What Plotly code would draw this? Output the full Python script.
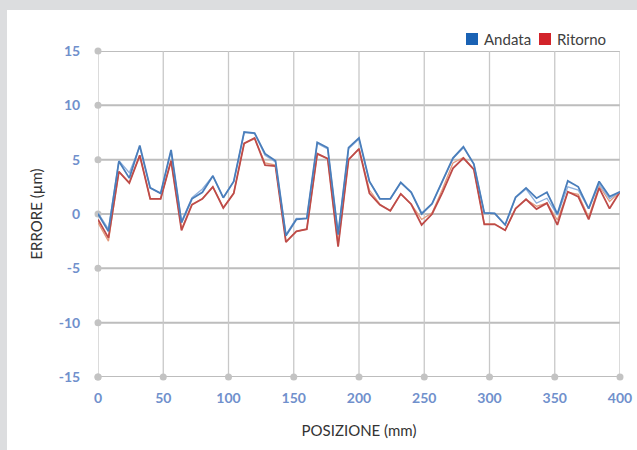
import plotly.graph_objects as go

posizione = [0, 8, 16, 24, 32, 40, 48, 56, 64, 72, 80, 88, 96, 104, 112, 120, 128, 136, 144, 152,
             160, 168, 176, 184, 192, 200, 208, 216, 224, 232, 240, 248, 256, 264, 272, 280, 288, 296,
             304, 312, 320, 328, 336, 344, 352, 360, 368, 376, 384, 392, 400]

andata = [0.0, -1.6, 4.85, 3.3, 6.3, 2.4, 1.9, 5.9, -0.8, 1.4, 2.0, 3.5, 1.5, 3.0, 7.55, 7.45, 5.55, 4.9,
          -2.0, -0.5, -0.4, 6.6, 6.1, -1.9, 6.1, 7.0, 3.0, 1.4, 1.4, 2.9, 2.0, 0.0, 0.95, 3.1, 5.15, 6.2,
          4.6, 0.1, 0.05, -1.0, 1.55, 2.4, 1.45, 2.0, 0.0, 3.05, 2.5, 0.5, 3.0, 1.6, 2.05]

andata_2 = [0.1, -1.4, 4.9, 3.8, 6.2, 2.4, 1.9, 5.8, -0.7, 1.5, 2.3, 3.5, 1.5, 3.0, 7.5, 7.4, 5.4, 4.8,
            -1.9, -0.4, -0.4, 6.5, 6.0, -1.8, 6.0, 6.9, 3.0, 1.4, 1.4, 2.9, 2.0, 0.1, 0.95, 3.1, 5.1, 6.1,
            4.6, 0.1, 0.05, -1.0, 1.5, 2.3, 1.0, 1.45, -0.1, 2.5, 2.2, 0.5, 2.75, 1.4, 2.05]

ritorno = [-0.5, -2.2, 3.9, 2.85, 5.4, 1.4, 1.4, 4.9, -1.5, 0.85, 1.4, 2.5, 0.55, 1.9, 6.5, 7.0, 4.5, 4.4,
           -2.6, -1.6, -1.4, 5.55, 5.1, -3.0, 5.0, 6.0, 1.9, 0.85, 0.3, 1.85, 0.9, -1.0, 0.0, 2.0, 4.2, 5.15,
           4.1, -0.95, -0.95, -1.5, 0.5, 1.35, 0.45, 1.0, -1.0, 2.05, 1.6, -0.5, 2.4, 0.5, 2.05]

ritorno_2 = [-0.8, -2.5, 3.9, 2.9, 5.4, 1.4, 1.4, 4.9, -1.4, 0.9, 1.4, 2.5, 0.6, 1.9, 6.5, 6.9, 4.7, 4.5,
             -2.5, -1.6, -1.4, 5.5, 5.1, -2.9, 5.0, 6.0, 2.2, 0.9, 0.3, 1.85, 0.9, -0.5, 0.1, 2.3, 4.7, 5.2,
             4.1, -0.9, -0.9, -1.5, 0.5, 1.35, 0.7, 1.0, -0.55, 2.0, 1.8, -0.3, 2.6, 1.15, 2.05]

x_ticks = [0, 50, 100, 150, 200, 250, 300, 350, 400]
y_ticks = [-15, -10, -5, 0, 5, 10, 15]
y_ticktext = ["-15", "-10", "-5", "0", "5", "10", "15"]
legend_names = ["Andata", "Ritorno"]

BLUE = "#4a7ebb"
BLUE_L = "#8fb0dc"
RED = "#be4b48"
RED_L = "#e39a7c"
LEGEND_COLORS = ["#1a62b4", "#d2232a"]
GRID = "#c8c8c8"
HGRID = "#bdbdbd"

L, R, T, B = 98, 17, 51, 73
W, H = 637, 450
pw, ph = W - L - R, H - T - B

def px_x(p):
    return (p - L) / pw

def px_y(p):
    return (H - B - p) / ph

fig = go.Figure()

# horizontal grid lines (from the tick array)
for yv in y_ticks:
    fig.add_shape(type="line", xref="x", yref="y", x0=x_ticks[0], x1=x_ticks[-1], y0=yv, y1=yv,
                  line=dict(color=HGRID, width=2), layer="below")
# vertical grid lines
for xv in x_ticks:
    fig.add_shape(type="line", xref="x", yref="y", x0=xv, x1=xv, y0=y_ticks[0], y1=y_ticks[-1],
                  line=dict(color=GRID, width=1.3), layer="below")

# tick dots on axes
fig.add_trace(go.Scatter(x=[0] * len(y_ticks), y=y_ticks, mode="markers",
                         marker=dict(color="#c3c3c3", size=7), showlegend=False,
                         hoverinfo="skip", cliponaxis=False))
fig.add_trace(go.Scatter(x=x_ticks, y=[-15] * len(x_ticks), mode="markers",
                         marker=dict(color="#c3c3c3", size=7), showlegend=False,
                         hoverinfo="skip", cliponaxis=False))

fig.add_trace(go.Scatter(x=posizione, y=ritorno_2, mode="lines",
                         line=dict(color=RED_L, width=1.3), showlegend=False))
fig.add_trace(go.Scatter(x=posizione, y=ritorno, mode="lines", name="Ritorno",
                         line=dict(color=RED, width=1.8), showlegend=False))
fig.add_trace(go.Scatter(x=posizione, y=andata_2, mode="lines",
                         line=dict(color=BLUE_L, width=1.3), showlegend=False))
fig.add_trace(go.Scatter(x=posizione, y=andata, mode="lines", name="Andata",
                         line=dict(color=BLUE, width=1.8), showlegend=False))

# legend drawn manually (square swatches + labels)
legend_x = [466, 539]
for name, col, lx in zip(legend_names, LEGEND_COLORS, legend_x):
    fig.add_shape(type="rect", xref="paper", yref="paper",
                  x0=px_x(lx), x1=px_x(lx + 12), y0=px_y(45), y1=px_y(33),
                  fillcolor=col, line=dict(width=0))
    fig.add_annotation(xref="paper", yref="paper", x=px_x(lx + 16), y=px_y(39),
                       text=name, showarrow=False, xanchor="left", yanchor="middle",
                       font=dict(size=15, color="#404040"))

# grey frame strips (left and top)
fig.add_shape(type="rect", xref="paper", yref="paper",
              x0=px_x(-5), x1=px_x(7), y0=px_y(H + 5), y1=px_y(-5),
              fillcolor="#dcdddf", line=dict(width=0), layer="below")
fig.add_shape(type="rect", xref="paper", yref="paper",
              x0=px_x(-5), x1=px_x(W + 5), y0=px_y(10), y1=px_y(-5),
              fillcolor="#dcdddf", line=dict(width=0), layer="below")

tick_font = dict(family="Lato, 'Open Sans', sans-serif", size=14, color="#7090cc", weight="bold")
CLEAR = "rgba(0,0,0,0)"

fig.update_layout(
    width=W, height=H,
    margin=dict(l=L, r=R, t=T, b=B, autoexpand=False),
    paper_bgcolor="white",
    plot_bgcolor="white",
    showlegend=False,
    font=dict(family="Lato, 'Open Sans', sans-serif", color="#333333"),
    xaxis=dict(range=[0, 400], tickvals=x_ticks, showgrid=False,
               zeroline=False, showline=False, tickfont=tick_font,
               ticks="outside", ticklen=8, tickcolor=CLEAR, automargin=False,
               title=dict(text="POSIZIONE (mm)", font=dict(size=15, color="#333333"), standoff=20)),
    yaxis=dict(range=[-15, 15], tickvals=y_ticks, ticktext=y_ticktext, showgrid=False,
               zeroline=False, showline=False,
               tickfont=tick_font, ticks="outside", ticklen=14, tickcolor=CLEAR,
               automargin=False,
               title=dict(text="ERRORE (µm)", font=dict(size=15, color="#333333"), standoff=12)),
)

fig.write_html("out.html", config={"displayModeBar": False},
               post_script="document.body.style.margin='0';")
